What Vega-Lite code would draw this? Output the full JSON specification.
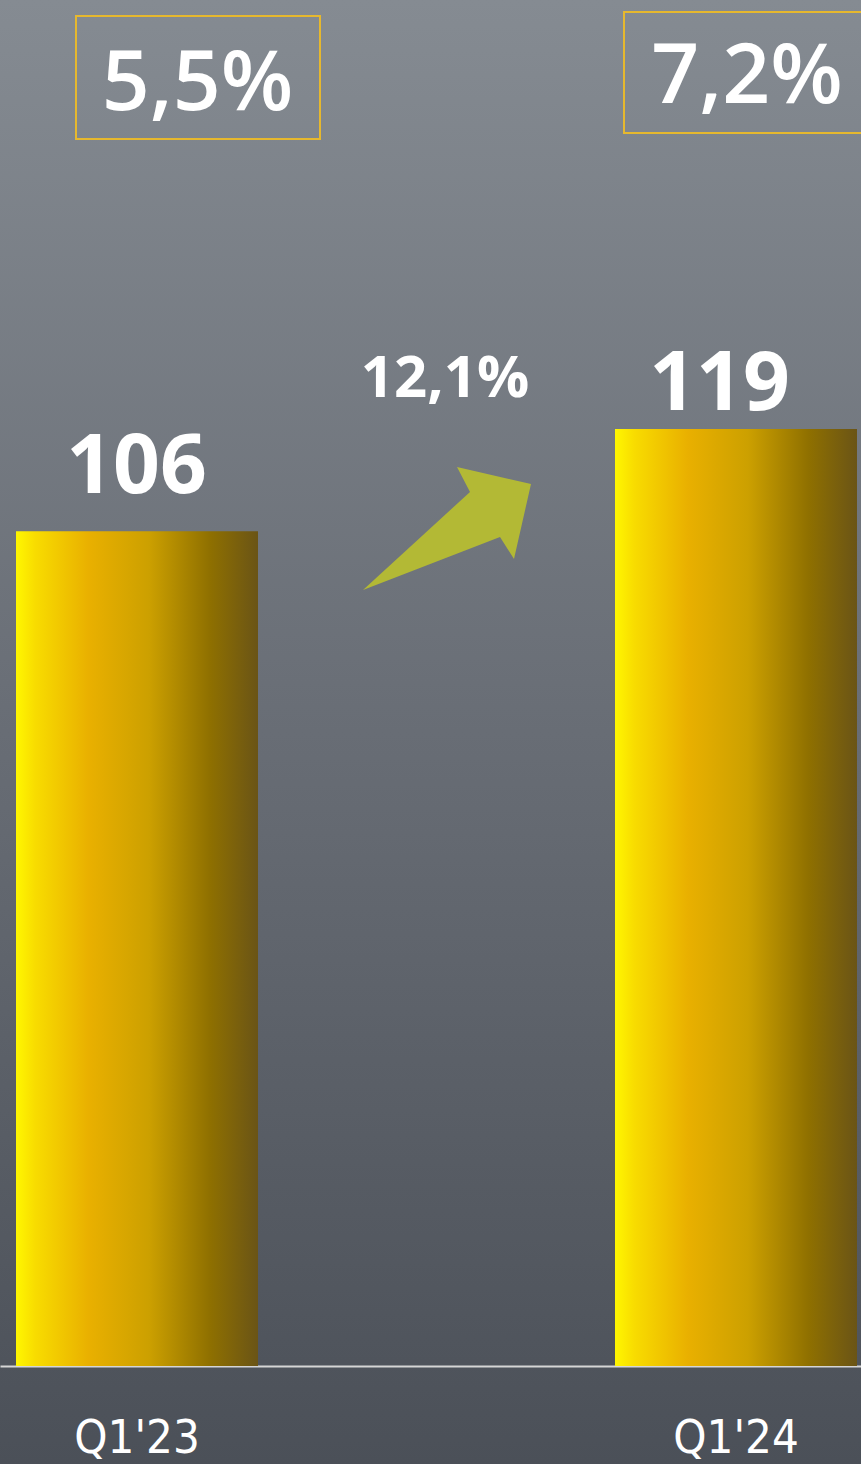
{
  "$schema": "https://vega.github.io/schema/vega-lite/v6.json",
  "width": 861,
  "height": 1464,
  "padding": 0,
  "autosize": {"type": "none"},
  "background": "#4b5058",
  "config": {
    "view": {
      "stroke": null,
      "fill": {
        "gradient": "linear",
        "x1": 0, "y1": 0, "x2": 0, "y2": 1,
        "stops": [
          {"offset": 0, "color": "#858b92"},
          {"offset": 0.5, "color": "#686d75"},
          {"offset": 1, "color": "#4b5058"}
        ]
      }
    }
  },
  "data": {
    "values": [
      {"period": "Q1'23", "revenue": 106, "margin": "5,5%"},
      {"period": "Q1'24", "revenue": 119, "margin": "7,2%", "growth": "12,1%"}
    ]
  },
  "encoding": {
    "x": {
      "field": "period",
      "type": "nominal",
      "sort": null,
      "scale": {"paddingInner": 0.596, "paddingOuter": 0.0167, "align": 0.8},
      "axis": {
        "title": null,
        "orient": "bottom",
        "offset": -98,
        "grid": false,
        "ticks": false,
        "domainColor": "#d6d6d6",
        "domainWidth": 2,
        "labelAngle": 0,
        "labelColor": "#ffffff",
        "labelFont": "DejaVu Sans Condensed, Roboto",
        "labelFontWeight": 300,
        "labelFontSize": 47,
        "labelBaseline": "alphabetic",
        "labelPadding": 86
      }
    }
  },
  "layer": [
    {
      "mark": {
        "type": "bar",
        "color": {
          "gradient": "linear",
          "x1": 0, "y1": 0, "x2": 1, "y2": 0,
          "stops": [
            {"offset": 0, "color": "#fff700"},
            {"offset": 0.08, "color": "#f8dc00"},
            {"offset": 0.3, "color": "#e9b000"},
            {"offset": 0.55, "color": "#cca000"},
            {"offset": 0.8, "color": "#8f7000"},
            {"offset": 1, "color": "#6a5416"}
          ]
        }
      },
      "encoding": {
        "y": {
          "field": "revenue",
          "type": "quantitative",
          "scale": {"domain": [-12.446, 173.48], "nice": false, "zero": false},
          "axis": null
        },
        "y2": {"datum": 0}
      }
    },
    {
      "transform": [{"filter": "datum.period === \"Q1'23\""}],
      "mark": {"type": "text", "font": "Open Sans", "fontSize": 82, "fontWeight": "bold", "color": "#ffffff", "align": "center", "baseline": "alphabetic", "dx": -0.5, "dy": -38},
      "encoding": {
        "y": {"field": "revenue", "type": "quantitative"},
        "text": {"field": "revenue", "type": "quantitative"}
      }
    },
    {
      "transform": [{"filter": "datum.period === \"Q1'24\""}],
      "mark": {"type": "text", "font": "Open Sans", "fontSize": 82, "fontWeight": "bold", "color": "#ffffff", "align": "center", "baseline": "alphabetic", "dx": -16.5, "dy": -19},
      "encoding": {
        "y": {"field": "revenue", "type": "quantitative"},
        "text": {"field": "revenue", "type": "quantitative"}
      }
    },
    {
      "transform": [{"filter": "isValid(datum.growth)"}],
      "mark": {"type": "text", "font": "Open Sans", "fontSize": 58, "fontWeight": "bold", "color": "#ffffff", "align": "center", "baseline": "alphabetic", "dx": -291, "dy": -32},
      "encoding": {
        "y": {"field": "revenue", "type": "quantitative"},
        "text": {"field": "growth", "type": "nominal"}
      }
    },
    {
      "transform": [{"filter": "isValid(datum.growth)"}],
      "mark": {"type": "point", "shape": "M-373,161L-266,63L-279,38L-205,55L-222,130L-236,108Z", "size": 4, "filled": true, "color": "#b3b935", "opacity": 1, "strokeWidth": 0},
      "encoding": {
        "y": {"field": "revenue", "type": "quantitative"}
      }
    },
    {
      "mark": {"type": "point", "size": 4, "filled": false, "stroke": "#e6b82e", "strokeWidth": 2, "opacity": 1},
      "encoding": {
        "y": {"datum": 164, "type": "quantitative"},
        "shape": {
          "field": "period",
          "type": "nominal",
          "scale": {"domain": ["Q1'23", "Q1'24"], "range": ["M-61,-58.7H183V64.3H-61Z", "M-112,-62.7H134V58.3H-112Z"]},
          "legend": null
        }
      }
    },
    {
      "transform": [{"filter": "datum.period === \"Q1'23\""}],
      "mark": {"type": "text", "font": "Open Sans", "fontSize": 84, "fontWeight": 600, "color": "#ffffff", "align": "center", "baseline": "alphabetic", "dx": 60.5, "dy": 35.4},
      "encoding": {
        "y": {"datum": 164, "type": "quantitative"},
        "text": {"field": "margin", "type": "nominal"}
      }
    },
    {
      "transform": [{"filter": "datum.period === \"Q1'24\""}],
      "mark": {"type": "text", "font": "Open Sans", "fontSize": 84, "fontWeight": 600, "color": "#ffffff", "align": "center", "baseline": "alphabetic", "dx": 11, "dy": 28.4},
      "encoding": {
        "y": {"datum": 164, "type": "quantitative"},
        "text": {"field": "margin", "type": "nominal"}
      }
    }
  ]
}
